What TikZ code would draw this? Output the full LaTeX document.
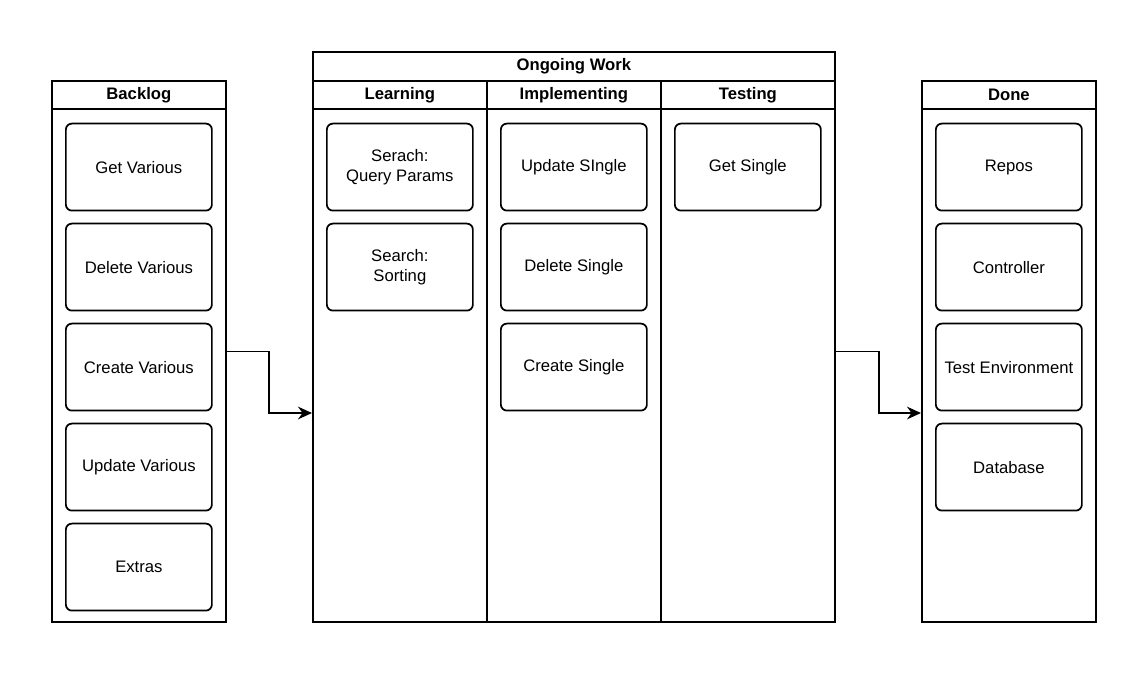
\documentclass[tikz,border=0pt]{standalone}
\usepackage{fontspec}
\setmainfont{Liberation Sans}
\usetikzlibrary{arrows.meta, positioning}

\begin{document}
\begin{tikzpicture}[
  x=0.75pt, y=-0.75pt,
  node distance=8.45pt,
  lane/.style={rectangle, draw, line width=1.3pt, minimum width=130.5pt,
               minimum height=405.75pt, anchor=north west, inner sep=0pt},
  lanehead/.style={rectangle, draw, line width=1.3pt, minimum width=130.5pt,
               minimum height=21pt, anchor=north west, inner sep=0pt,
               font=\fontsize{12.5}{15}\selectfont\bfseries},
  card/.style={rectangle, draw, line width=1.3pt, rounded corners=4.5pt,
               minimum width=109.5pt, minimum height=65.25pt, align=center,
               inner sep=2pt, font=\fontsize{12.5}{15}\selectfont},
  arrow/.style={-{Stealth[length=10.5pt,width=9.5pt]}, line width=1.3pt},
]
  \useasboundingbox (0,0) rectangle (1145,672);

  % Lanes
  \node[lane] (backlog) at (51,80) {};
  \node[lanehead] (backloghead) at (51,80) {Backlog};

  \node[lanehead, minimum width=391.5pt, minimum height=21.75pt] (ongoing) at (312,51) {Ongoing Work};
  \node[lane] (learning) at (312,80) {};
  \node[lanehead] (learninghead) at (312,80) {Learning};
  \node[lane] (implementing) at (486,80) {};
  \node[lanehead] (implementinghead) at (486,80) {Implementing};
  \node[lane] (testing) at (660,80) {};
  \node[lanehead] (testinghead) at (660,80) {Testing};

  \node[lane] (done) at (921,80) {};
  \node[lanehead] (donehead) at (921,80) {Done};

  % Backlog cards
  \node[card, below=9.75pt of backloghead] (getvar)    {Get Various};
  \node[card, below=of getvar]             (deletevar) {Delete Various};
  \node[card, below=of deletevar]          (createvar) {Create Various};
  \node[card, below=of createvar]          (updatevar) {Update Various};
  \node[card, below=of updatevar]          (extras)    {Extras};

  % Ongoing cards
  \node[card, below=9.75pt of learninghead] (query)   {Serach:\\Query Params};
  \node[card, below=of query]               (sorting) {Search:\\Sorting};

  \node[card, below=9.75pt of implementinghead] (updatesgl) {Update SIngle};
  \node[card, below=of updatesgl]               (deletesgl) {Delete Single};
  \node[card, below=of deletesgl]               (createsgl) {Create Single};

  \node[card, below=9.75pt of testinghead] (getsgl) {Get Single};

  % Done cards
  \node[card, below=9.75pt of donehead] (repos)      {Repos};
  \node[card, below=of repos]           (controller) {Controller};
  \node[card, below=of controller]      (testenv)    {Test Environment};
  \node[card, below=of testenv]         (database)   {Database};

  % Flows
  \coordinate (inOngoing) at (312,413);
  \coordinate (inDone) at (921,413);
  \draw[arrow] (backlog.east) -- ++(42,0) |- (inOngoing);
  \draw[arrow] (testing.east) -- ++(43,0) |- (inDone);
\end{tikzpicture}
\end{document}
